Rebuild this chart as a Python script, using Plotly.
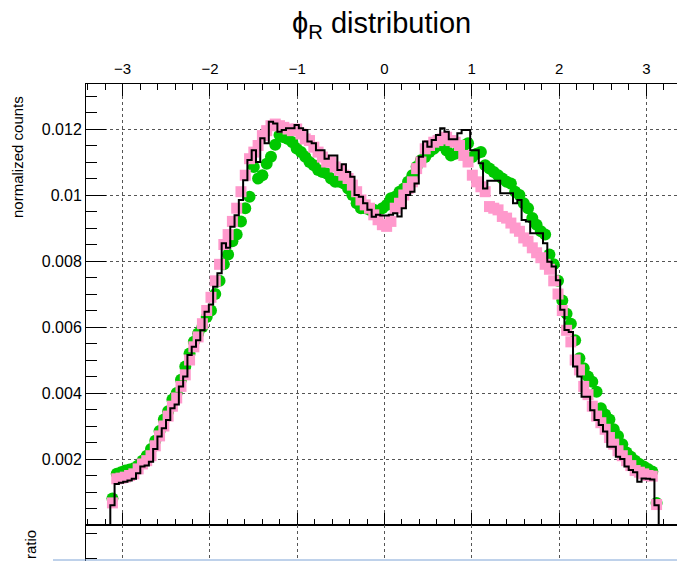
import numpy as np
import plotly.graph_objects as go

# ---------------- data (values in units of 1e-5 normalized counts) ----------------
n_bins = 128
phi_range = [-np.pi, np.pi]

black_e5 = [60, 124, 128, 131, 135, 140, 157, 177, 180, 192,
            230, 268, 293, 318, 354, 365, 420, 450, 515, 540,
            560, 590, 646, 668, 722, 763, 854, 840, 904, 939,
            985, 1045, 1106, 1136, 1100, 1172, 1157, 1222, 1217, 1192,
            1197, 1202, 1202, 1212, 1202, 1197, 1162, 1157, 1136, 1136,
            1110, 1120, 1120, 1076, 1093, 1070, 1055, 1000, 995, 975,
            955, 934, 940, 938, 938, 940, 945, 935, 960, 1000,
            1010, 1035, 1116, 1162, 1146, 1167, 1182, 1202, 1192, 1169,
            1169, 1187, 1197, 1197, 1136, 1136, 1096, 1020, 1043, 1043,
            1043, 1005, 1005, 1005, 975, 985, 924, 920, 884, 884,
            884, 854, 798, 783, 742, 652, 591, 585, 480, 450,
            389, 389, 348, 318, 303, 283, 237, 237, 207, 200,
            177, 167, 160, 131, 141, 140, 138, 60]

pink_e5 = [67, 140, 142, 145, 150, 155, 170, 185, 195, 210,
           240, 270, 300, 330, 360, 385, 420, 455, 500, 540,
           570, 610, 650, 690, 740, 790, 850, 880, 920, 960,
           1010, 1060, 1110, 1130, 1150, 1180, 1195, 1210, 1215, 1210,
           1205, 1200, 1195, 1200, 1185, 1170, 1165, 1145, 1130, 1115,
           1100, 1100, 1085, 1075, 1060, 1050, 1030, 1010, 985, 970,
           960, 940, 925, 910, 905, 920, 960, 975, 1000, 1020,
           1040, 1080, 1100, 1140, 1150, 1160, 1165, 1170, 1175, 1165,
           1160, 1150, 1120, 1100, 1060, 1040, 1025, 1010, 965, 960,
           955, 935, 930, 915, 900, 890, 870, 860, 840, 825,
           810, 790, 775, 740, 700, 650, 590, 555, 500, 470,
           420, 395, 360, 330, 310, 290, 265, 245, 225, 210,
           195, 180, 165, 160, 155, 150, 148, 62]

green_e5 = [80, 155, 160, 165, 168, 172, 180, 195, 210, 230,
            255, 285, 320, 345, 380, 400, 440, 480, 520, 555,
            580, 600, 630, 650, 700, 740, 790, 820, 860, 880,
            920, 960, 995, 1085, 1050, 1060, 1095, 1116, 1152, 1182,
            1175, 1170, 1160, 1141, 1130, 1116, 1100, 1090, 1076, 1070,
            1065, 1050, 1040, 1040, 1035, 1020, 1000, 975, 960, 960,
            955, 955, 950, 960, 970, 990, 995, 1010, 1020, 1040,
            1060, 1086, 1105, 1115, 1130, 1140, 1150, 1150, 1135, 1120,
            1125, 1140, 1150, 1157, 1115, 1125, 1130, 1090, 1080, 1070,
            1060, 1050, 1040, 1035, 1010, 1000, 975, 960, 930, 910,
            890, 880, 820, 790, 740, 680, 640, 610, 560, 505,
            475, 450, 434, 404, 354, 335, 320, 290, 270, 245,
            220, 207, 195, 185, 177, 170, 162, 67]

y_tick_vals = [0.002, 0.004, 0.006, 0.008, 0.010, 0.012]
y_tick_text = ["0.002", "0.004", "0.006", "0.008", "0.01", "0.012"]

title_text = "ϕ<sub>R</sub> distribution"
y_title = "normalized counts"
ratio_title = "ratio"

# ---------------- derived arrays ----------------
scale = 1e-5
black = np.array(black_e5) * scale
pink = np.array(pink_e5) * scale
green = np.array(green_e5) * scale
edges = np.linspace(phi_range[0], phi_range[1], n_bins + 1)
centers = 0.5 * (edges[:-1] + edges[1:])

x_lo, x_hi = -3.42, 3.42
y_hi = 0.013364

step_x = np.concatenate([[x_lo, edges[0]], edges, [edges[-1], x_hi]])
step_y = np.concatenate([[0.0, 0.0], black, [black[-1], 0.0, 0.0]])

# ---------------- layout geometry ----------------
# The page body has a default 8 px margin, so the figure is drawn offset by
# (8, 8) inside the window; window coordinates are converted accordingly.
OFF = 8
W, H = 685, 561
frame_left, frame_right, frame_top, frame_split, frame_bottom = 86, 683, 84, 525, 561
L = frame_left - OFF
R = W - (frame_right - OFF)
T = frame_top - OFF
B = H - (frame_bottom - OFF)
pw, ph = W - L - R, H - T - B


def fx(xw):
    return (xw - OFF - L) / pw


def fy(yw):
    return (H - B - (yw - OFF)) / ph


split = fy(frame_split)
font = "Liberation Sans, Arial, Helvetica, sans-serif"

fig = go.Figure()
fig.add_trace(go.Scatter(x=centers, y=green, mode="markers",
                         marker=dict(symbol="circle", size=12, color="#00c800", line=dict(width=0)),
                         xaxis="x", yaxis="y", showlegend=False, hoverinfo="skip"))
fig.add_trace(go.Scatter(x=centers, y=pink, mode="markers",
                         marker=dict(symbol="square", size=11, color="#ff99cc", line=dict(width=0)),
                         xaxis="x", yaxis="y", showlegend=False, hoverinfo="skip"))
fig.add_trace(go.Scatter(x=step_x, y=step_y, mode="lines",
                         line=dict(color="black", width=2, shape="hv"),
                         xaxis="x", yaxis="y", showlegend=False, hoverinfo="skip"))
# empty trace so that the ratio sub-panel is created and drawn
fig.add_trace(go.Scatter(x=[None], y=[None], mode="markers", xaxis="x2", yaxis="y2",
                         showlegend=False, hoverinfo="skip"))

grid = dict(showgrid=True, gridcolor="#555555", griddash="dot", gridwidth=1)

fig.update_layout(
    width=W, height=H,
    margin=dict(l=L, r=R, t=T, b=B, pad=0),
    paper_bgcolor="white", plot_bgcolor="white",
    font=dict(family=font, color="black"),
    xaxis=dict(domain=[0, 1], range=[x_lo, x_hi], anchor="y", side="top",
               showline=True, linecolor="black", linewidth=1, mirror="allticks",
               ticks="inside", ticklen=12, tickwidth=1, tickcolor="black",
               tick0=0, dtick=1, zeroline=False, ticklabelstandoff=3,
               minor=dict(dtick=0.2, ticklen=6, ticks="inside", tickcolor="black", showgrid=False),
               tickfont=dict(size=15), **grid),
    yaxis=dict(domain=[split, 1], range=[0, y_hi], anchor="x",
               showline=True, linecolor="black", linewidth=1, mirror=True,
               ticks="inside", ticklen=20, tickwidth=1, tickcolor="black",
               tickvals=y_tick_vals, ticktext=y_tick_text, zeroline=False,
               minor=dict(dtick=0.0005, ticklen=11, ticks="inside", tickcolor="black", showgrid=False),
               tickfont=dict(size=16), **grid),
    xaxis2=dict(domain=[0, 1], range=[x_lo, x_hi], anchor="y2",
                showticklabels=False, ticks="", showline=False, zeroline=False,
                tick0=0, dtick=1, **grid),
    yaxis2=dict(domain=[0, split], range=[0.44, 1.16], anchor="x2",
                showline=True, linecolor="black", linewidth=1,
                ticks="inside", ticklen=11, tickcolor="black", tickvals=[0.5, 1.0],
                showticklabels=False, showgrid=False, zeroline=False),
    shapes=[
        dict(type="line", xref="x domain", x0=0, x1=1, yref="y", y0=0, y1=0,
             line=dict(color="black", width=2)),
        dict(type="line", xref="paper", x0=fx(53), x1=fx(685), yref="paper", y0=fy(560), y1=fy(560),
             line=dict(color="#7fa4d6", width=1)),
    ],
    annotations=[
        dict(text=title_text, xref="paper", yref="paper", x=fx(381), y=fy(25),
             xanchor="center", yanchor="middle", showarrow=False, font=dict(size=29)),
        dict(text=y_title, xref="paper", yref="paper", x=fx(17), y=fy(157),
             xanchor="center", yanchor="middle", showarrow=False, textangle=-90, font=dict(size=15)),
        dict(text=ratio_title, xref="paper", yref="paper", x=fx(30), y=fy(545),
             xanchor="center", yanchor="middle", showarrow=False, textangle=-90, font=dict(size=15)),
    ],
)

fig.write_html("out.html")
